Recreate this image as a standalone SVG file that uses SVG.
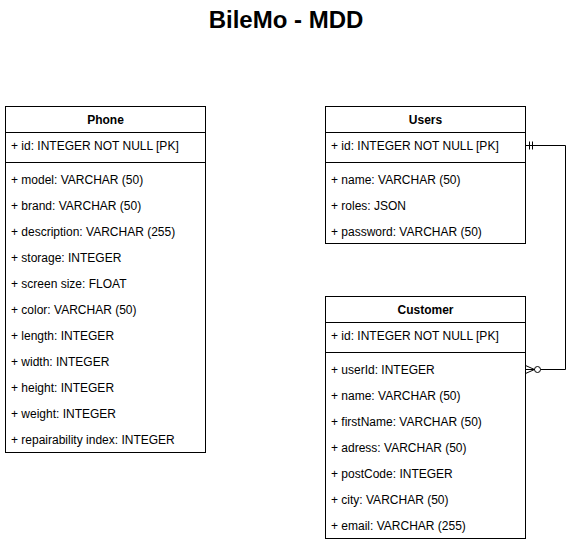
<svg xmlns="http://www.w3.org/2000/svg" width="580" height="547" viewBox="0 0 580 547">
<style>
.box{fill:#fff;stroke:#000;stroke-width:1}
.sep{stroke:#000;stroke-width:1;fill:none}
.h{font-family:"Liberation Sans",Arial,sans-serif;font-size:12px;font-weight:bold;text-anchor:middle;dominant-baseline:central;fill:#000}
.r{font-family:"Liberation Sans",Arial,sans-serif;font-size:12px;dominant-baseline:central;fill:#000}
.title{font-family:"Liberation Sans",Arial,sans-serif;font-size:24px;font-weight:bold;text-anchor:middle;fill:#000}
.c{stroke:#000;stroke-width:1;fill:none}
</style>
<rect width="580" height="547" fill="#fff"/>
<text class="title" x="286" y="27.5">BileMo - MDD</text>
<g id="phone">
<rect class="box" x="5.5" y="106.5" width="200" height="346"/>
<line class="sep" x1="5.5" y1="132.5" x2="205.5" y2="132.5"/>
<line class="sep" x1="5.5" y1="162.5" x2="205.5" y2="162.5"/>
<text class="h" x="105.5" y="119.5">Phone</text>
<text class="r" x="11" y="145.5">+ id: INTEGER NOT NULL [PK]</text>
<text class="r" x="11" y="179.5">+ model: VARCHAR (50)</text>
<text class="r" x="11" y="205.5">+ brand: VARCHAR (50)</text>
<text class="r" x="11" y="231.5">+ description: VARCHAR (255)</text>
<text class="r" x="11" y="257.5">+ storage: INTEGER</text>
<text class="r" x="11" y="283.5">+ screen size: FLOAT</text>
<text class="r" x="11" y="309.5">+ color: VARCHAR (50)</text>
<text class="r" x="11" y="335.5">+ length: INTEGER</text>
<text class="r" x="11" y="361.5">+ width: INTEGER</text>
<text class="r" x="11" y="387.5">+ height: INTEGER</text>
<text class="r" x="11" y="413.5">+ weight: INTEGER</text>
<text class="r" x="11" y="439.5">+ repairability index: INTEGER</text>
</g>
<g id="users">
<rect class="box" x="325.5" y="106.5" width="200" height="137"/>
<line class="sep" x1="325.5" y1="132.5" x2="525.5" y2="132.5"/>
<line class="sep" x1="325.5" y1="162.5" x2="525.5" y2="162.5"/>
<text class="h" x="425.5" y="119.5">Users</text>
<text class="r" x="331" y="145.5">+ id: INTEGER NOT NULL [PK]</text>
<text class="r" x="331" y="179.5">+ name: VARCHAR (50)</text>
<text class="r" x="331" y="205.5">+ roles: JSON</text>
<text class="r" x="331" y="231.5">+ password: VARCHAR (50)</text>
</g>
<g id="customer">
<rect class="box" x="325.5" y="296.5" width="200" height="242"/>
<line class="sep" x1="325.5" y1="322.5" x2="525.5" y2="322.5"/>
<line class="sep" x1="325.5" y1="352.5" x2="525.5" y2="352.5"/>
<text class="h" x="425.5" y="309.5">Customer</text>
<text class="r" x="331" y="335.5">+ id: INTEGER NOT NULL [PK]</text>
<text class="r" x="331" y="369.5">+ userId: INTEGER</text>
<text class="r" x="331" y="395.5">+ name: VARCHAR (50)</text>
<text class="r" x="331" y="421.5">+ firstName: VARCHAR (50)</text>
<text class="r" x="331" y="447.5">+ adress: VARCHAR (50)</text>
<text class="r" x="331" y="473.5">+ postCode: INTEGER</text>
<text class="r" x="331" y="499.5">+ city: VARCHAR (50)</text>
<text class="r" x="331" y="525.5">+ email: VARCHAR (255)</text>
</g>
<g id="connectors">
<path class="c" d="M525.5 145.5 H565.5 V369.5 H540.5"/>
<line class="c" x1="529.5" y1="141.5" x2="529.5" y2="149.5"/>
<line class="c" x1="532.5" y1="141.5" x2="532.5" y2="149.5"/>
<circle class="c" cx="537.5" cy="369.5" r="3"/>
<path class="c" d="M525.5 365.5 L534.5 369.5 L525.5 373.5 M525.5 369.5 H534.5"/>
</g>
</svg>
